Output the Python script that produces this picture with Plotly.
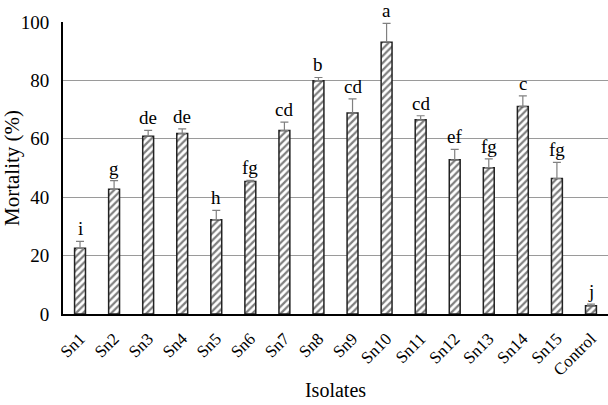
import plotly.graph_objects as go

categories = ["Sn1", "Sn2", "Sn3", "Sn4", "Sn5", "Sn6", "Sn7", "Sn8", "Sn9", "Sn10",
              "Sn11", "Sn12", "Sn13", "Sn14", "Sn15", "Control"]
mortality = [22.5, 42.7, 60.9, 61.8, 32.3, 45.4, 62.8, 79.9, 68.8, 93.1,
             66.5, 52.8, 50.1, 71.1, 46.4, 2.8]
errors = [2.4, 3.0, 2.0, 1.6, 3.2, 0.4, 2.9, 1.1, 4.9, 6.4,
          1.4, 3.6, 3.0, 3.6, 5.5, 0.6]
letters = ["i", "g", "de", "de", "h", "fg", "cd", "b", "cd", "a",
           "cd", "ef", "fg", "c", "fg", "j"]

FONT = "Liberation Serif"

fig = go.Figure()
fig.add_trace(go.Bar(
    x=categories, y=mortality, width=0.32,
    marker=dict(color="white", line=dict(color="#222222", width=1.5),
                pattern=dict(shape="/", fgcolor="black", bgcolor="white", size=5, solidity=0.45)),
    error_y=dict(type="data", symmetric=False, array=errors, arrayminus=[0]*len(errors),
                 color="#808080", thickness=1.2, width=4),
    showlegend=False,
))

for c, v, e, t in zip(categories, mortality, errors, letters):
    fig.add_annotation(x=c, y=v + e, text=t, showarrow=False, yanchor="bottom",
                       yshift=0, font=dict(family=FONT, size=19, color="black"))

fig.update_layout(
    width=608, height=405,
    margin=dict(l=63, r=0, t=22, b=91),
    plot_bgcolor="white", paper_bgcolor="white",
    font=dict(family=FONT, size=17, color="black"),
    bargap=0.68,
)
fig.update_xaxes(
    range=[-0.5, 15.5], tickangle=-45, showline=True, linecolor="black", linewidth=2,
    ticks="outside", ticklen=6, tickcolor="rgba(0,0,0,0)",
    tickfont=dict(size=17), title=dict(text="Isolates", font=dict(size=20), standoff=5),
    showgrid=False, automargin=False,
)
fig.update_yaxes(
    range=[0, 100], tickvals=[0, 20, 40, 60, 80, 100], showline=True, linecolor="black",
    linewidth=2, showgrid=True, gridcolor="#9a9a9a", gridwidth=1, zeroline=False,
    tickfont=dict(size=19), ticklabelstandoff=8, automargin=False,
    title=dict(text="Mortality (%)", font=dict(size=21), standoff=6),
)

fig.write_html("out.html", config={"displayModeBar": False},
               post_script="document.body.style.margin='0';document.body.style.padding='0';")
